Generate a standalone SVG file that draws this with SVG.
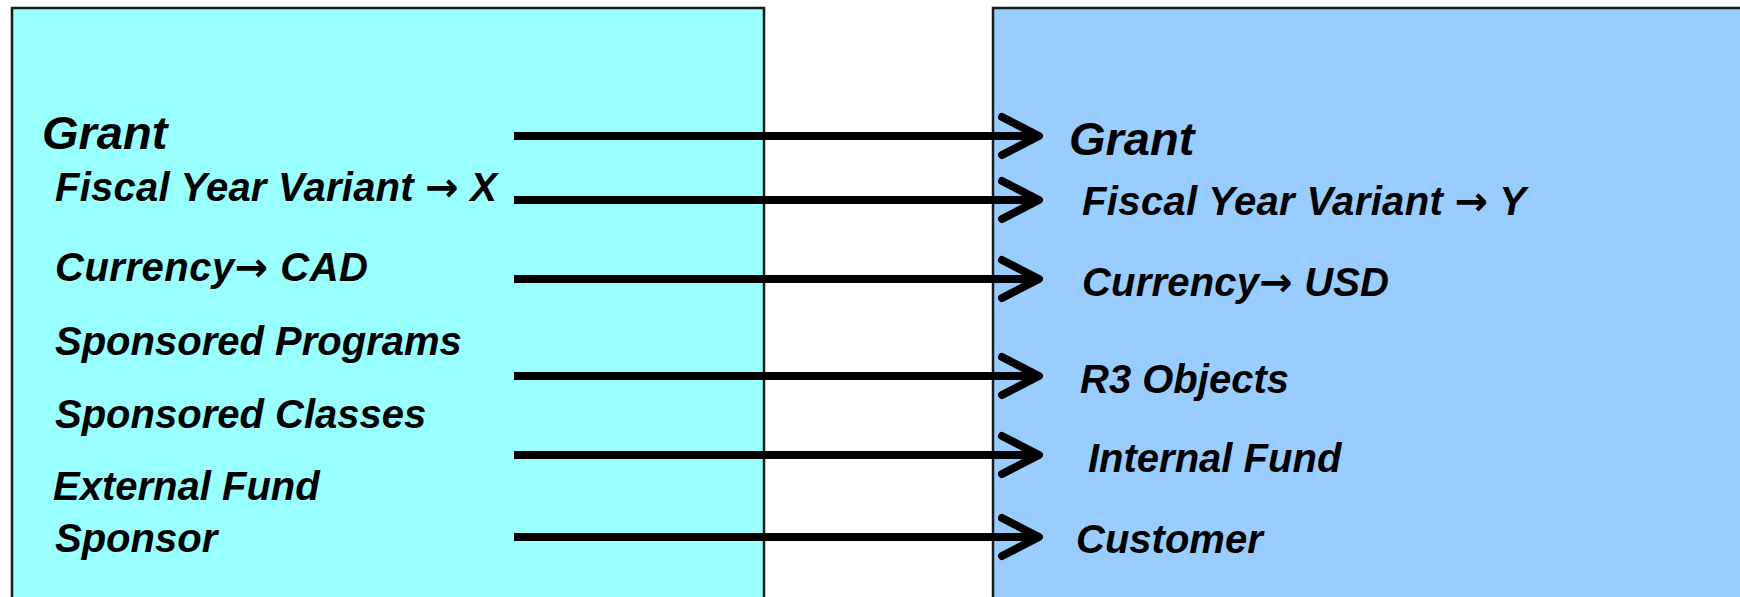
<svg xmlns="http://www.w3.org/2000/svg" width="1740" height="597" viewBox="0 0 1740 597">
  <style>
    .box { stroke: #1a1a1a; stroke-width: 2.5; }
    .t { font-family: "Liberation Sans", Arial, sans-serif; font-weight: bold; font-style: italic; font-size: 40px; fill: #000; }
    .big { font-size: 47px; }
    .arr { font-family: "DejaVu Sans", sans-serif; font-style: normal; font-weight: bold; }
    .conn { stroke: #000; stroke-width: 8; fill: none; marker-end: url(#chev); }
  </style>
  <defs>
    <marker id="chev" viewBox="-50 -30 60 60" markerWidth="60" markerHeight="60" refX="0" refY="0" markerUnits="userSpaceOnUse" orient="auto" overflow="visible">
      <path d="M -37,-19 L 0,0 L -37,19" fill="none" stroke="#000" stroke-width="8" stroke-linecap="round" stroke-linejoin="round"/>
    </marker>
  </defs>
  <rect width="1740" height="597" fill="#ffffff"/>
  <g id="source">
    <rect class="box" x="12" y="8" width="752" height="600" fill="#99FFFF"/>
    <text class="t big" x="42" y="149">Grant</text>
    <text class="t" x="55" y="201" textLength="442" lengthAdjust="spacing">Fiscal Year Variant <tspan class="arr">→</tspan> X</text>
    <text class="t" x="55" y="281" textLength="313" lengthAdjust="spacing">Currency<tspan class="arr">→</tspan> CAD</text>
    <text class="t" x="55" y="355">Sponsored Programs</text>
    <text class="t" x="55" y="428">Sponsored Classes</text>
    <text class="t" x="53" y="500">External Fund</text>
    <text class="t" x="55" y="552">Sponsor</text>
  </g>
  <g id="target">
    <rect class="box" x="993" y="8" width="760" height="600" fill="#99CCFF"/>
    <text class="t big" x="1069" y="155">Grant</text>
    <text class="t" x="1082" y="215" textLength="444" lengthAdjust="spacing">Fiscal Year Variant <tspan class="arr">→</tspan> Y</text>
    <text class="t" x="1082" y="296" textLength="307" lengthAdjust="spacing">Currency<tspan class="arr">→</tspan> USD</text>
    <text class="t" x="1080" y="393">R3 Objects</text>
    <text class="t" x="1088" y="472">Internal Fund</text>
    <text class="t" x="1076" y="553">Customer</text>
  </g>
  <g id="connectors">
    <line class="conn" x1="514" y1="136" x2="1039" y2="136"/>
    <line class="conn" x1="514" y1="200" x2="1039" y2="200"/>
    <line class="conn" x1="514" y1="279" x2="1039" y2="279"/>
    <line class="conn" x1="514" y1="376" x2="1039" y2="376"/>
    <line class="conn" x1="514" y1="455" x2="1039" y2="455"/>
    <line class="conn" x1="514" y1="537" x2="1039" y2="537"/>
  </g>
</svg>
